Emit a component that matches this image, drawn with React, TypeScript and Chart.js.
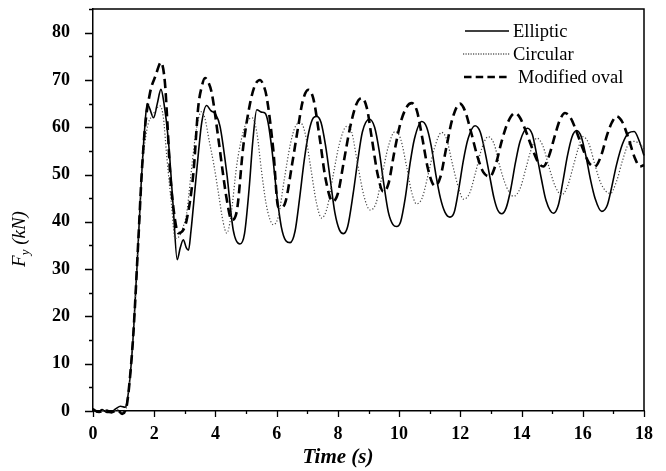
import React, { useEffect, useRef } from "react";
import { Chart, registerables } from "chart.js";

Chart.register(...registerables);

const SERIF = '"Liberation Serif", "Times New Roman", serif';

// Elliptic (solid)
const ellipticT = [0, 0.15, 0.3, 0.45, 0.6, 0.75, 0.9, 1.05, 1.1, 1.2, 1.32, 1.48, 1.59, 1.68, 1.77, 1.85, 1.98, 2.1, 2.22, 2.32, 2.46, 2.62, 2.75, 2.85, 2.95, 3.05, 3.12, 3.2, 3.33, 3.45, 3.55, 3.71, 3.85, 4.0, 4.15, 4.37, 4.58, 4.8, 4.95, 5.1, 5.22, 5.35, 5.5, 5.62, 5.72, 5.85, 6.0, 6.15, 6.3, 6.44, 6.6, 6.75, 6.9, 7.05, 7.2, 7.31, 7.45, 7.6, 7.75, 7.9, 8.05, 8.18, 8.32, 8.5, 8.65, 8.8, 9.03, 9.2, 9.35, 9.5, 9.65, 9.8, 9.92, 10.05, 10.2, 10.35, 10.5, 10.74, 10.9, 11.05, 11.2, 11.35, 11.5, 11.66, 11.8, 11.95, 12.1, 12.25, 12.48, 12.65, 12.8, 12.95, 13.1, 13.22, 13.35, 13.5, 13.65, 13.8, 13.95, 14.19, 14.35, 14.5, 14.65, 14.8, 15.04, 15.2, 15.35, 15.5, 15.65, 15.8, 15.95, 16.1, 16.25, 16.4, 16.62, 16.8, 16.95, 17.1, 17.3, 17.5, 17.68, 17.85, 18.0];
const ellipticF = [0.5, -0.2, 0.3, -0.3, -0.2, 0.5, 1.0, 0.8, 1.5, 6.5, 16.5, 36, 50, 59, 65, 64, 62, 65, 68, 65, 57.4, 43.2, 32, 34.5, 36.2, 34.5, 34, 38, 46.8, 55, 60.9, 64.6, 63.5, 62.8, 60.2, 50.3, 38.3, 35.3, 37.5, 47, 57, 63.7, 63.2, 63, 61, 55, 46, 39, 36, 35.6, 38, 45, 53, 59, 62, 62.3, 61, 56, 49, 42, 38.3, 37.5, 39, 46, 53, 59, 61.7, 60, 55, 48, 42, 39.4, 39, 40, 45, 52, 57.5, 61.2, 60, 56, 50, 45, 42, 41, 42, 47, 53, 57.5, 60.3, 59, 55, 50, 45, 42.5, 41.7, 43, 47, 52.5, 57, 59.8, 58.5, 54, 49, 44.5, 41.8, 43.5, 48.5, 54, 58, 59.3, 58, 54, 49, 45, 42.2, 43.5, 47.5, 52, 56.5, 58.8, 59.1, 57, 54];

// Circular (dotted)
const circularT = [0, 0.2, 0.4, 0.6, 0.8, 0.95, 1.05, 1.1, 1.2, 1.32, 1.48, 1.59, 1.7, 1.81, 1.95, 2.08, 2.19, 2.3, 2.41, 2.57, 2.68, 2.8, 2.92, 3.06, 3.2, 3.33, 3.45, 3.55, 3.65, 3.8, 3.95, 4.1, 4.25, 4.37, 4.5, 4.69, 4.85, 5.0, 5.2, 5.35, 5.5, 5.65, 5.78, 5.89, 6.05, 6.25, 6.45, 6.6, 6.76, 6.92, 7.1, 7.3, 7.47, 7.65, 7.85, 8.05, 8.29, 8.45, 8.65, 8.85, 9.05, 9.25, 9.45, 9.65, 9.87, 10.05, 10.25, 10.4, 10.57, 10.75, 10.95, 11.15, 11.39, 11.55, 11.75, 11.95, 12.1, 12.3, 12.5, 12.7, 12.91, 13.1, 13.3, 13.5, 13.73, 13.95, 14.15, 14.3, 14.5, 14.7, 14.9, 15.1, 15.31, 15.5, 15.7, 15.85, 16.0, 16.2, 16.4, 16.6, 16.9, 17.1, 17.3, 17.5, 17.7, 17.85, 18.0];
const circularF = [0, -0.3, 0.2, -0.2, 0.3, -0.5, 0.3, 1, 6.5, 16.5, 36, 50, 57, 60.9, 62.5, 64, 64.5, 62, 53.8, 43.2, 36.5, 36.8, 38.5, 41.8, 50, 57.4, 62, 63.3, 62, 57, 52, 46, 40, 37.6, 41, 51.7, 57.5, 60.8, 62, 59, 51, 44, 40.5, 39.4, 41, 49, 56.5, 60, 61, 59, 52, 44, 40.8, 43, 50, 56.5, 60.2, 59, 52, 45.5, 42.5, 44, 50, 56, 59.1, 57.5, 51.5, 46.5, 43.8, 45, 50, 55.5, 58.9, 57.5, 52, 47, 44.8, 46, 50.5, 55.5, 58, 56.5, 51.5, 47.5, 45.4, 47, 51.5, 55, 57.7, 56, 51.5, 47.5, 45.7, 47.5, 52, 55.5, 58, 56.5, 52, 48, 46, 48.5, 53, 56.5, 57, 56.5, 55.5];

// Modified oval (dashed)
const ovalT = [0, 0.2, 0.4, 0.6, 0.8, 0.95, 1.05, 1.1, 1.2, 1.32, 1.48, 1.59, 1.7, 1.86, 2.05, 2.22, 2.35, 2.43, 2.52, 2.68, 2.79, 2.92, 3.06, 3.28, 3.44, 3.55, 3.66, 3.77, 3.88, 4.1, 4.25, 4.37, 4.53, 4.69, 4.91, 5.13, 5.3, 5.46, 5.56, 5.67, 5.89, 6.05, 6.16, 6.3, 6.5, 6.7, 6.85, 7.03, 7.2, 7.4, 7.6, 7.83, 8.0, 8.2, 8.4, 8.6, 8.78, 8.95, 9.1, 9.3, 9.48, 9.65, 9.85, 10.05, 10.25, 10.41, 10.58, 10.75, 10.95, 11.17, 11.35, 11.55, 11.75, 11.99, 12.15, 12.35, 12.55, 12.75, 12.97, 13.15, 13.35, 13.55, 13.79, 13.95, 14.15, 14.35, 14.55, 14.71, 14.9, 15.1, 15.25, 15.42, 15.6, 15.8, 16.0, 16.2, 16.4, 16.6, 16.8, 16.95, 17.1, 17.3, 17.5, 17.7, 17.87, 18.0];
const ovalF = [0.3, -0.2, 0.2, -0.3, 0.2, -0.6, 0, 1, 6.5, 16.5, 36, 50, 60, 67.2, 71, 73.7, 69.4, 61, 50.3, 40.4, 37.6, 38, 40.4, 50.3, 64.4, 68.5, 70.4, 69.5, 67.2, 57.4, 50, 44.7, 40.4, 42, 56, 65, 69, 70, 69, 66.5, 55.2, 43.2, 43, 44.5, 52, 60, 65.5, 67.9, 66, 58, 49, 44.3, 46, 53, 60, 64.8, 66.2, 64, 58, 50, 46.4, 48, 55, 61, 64.3, 65.1, 63.5, 58, 51, 47.6, 49.5, 56, 62, 65, 63.5, 59, 54, 50.5, 49.6, 52, 57, 61, 63, 62, 59, 55.5, 52.5, 51.7, 54, 58.5, 61.5, 63, 62, 59, 55.5, 52.5, 51.7, 54, 58.5, 61, 62.3, 61, 57.5, 53.5, 51.7, 52];

const seriesNames = ["Elliptic", "Circular", "Modified oval"];
const xTitle = "Time (s)";
const yTitleMain = "F";
const yTitleSub = "y";
const yTitleRest = " (kN)";

const toPoints = (t: number[], f: number[]) => t.map((x, i) => ({ x, y: f[i] }));

const framePlugin = {
  id: "frameAndText",
  afterDraw(chart: any) {
    const { ctx, chartArea } = chart;
    const { left, right, top, bottom } = chartArea;
    const xs = chart.scales.x;
    const ys = chart.scales.y;
    ctx.save();
    ctx.strokeStyle = "#000";
    ctx.lineWidth = 1.5;
    ctx.beginPath();
    ctx.moveTo(left, top);
    ctx.lineTo(right, top);
    ctx.lineTo(right, bottom);
    ctx.stroke();
    ctx.lineWidth = 1.3;
    ctx.beginPath();
    for (let v = 0; v <= 85; v += 5) {
      const py = Math.round(ys.getPixelForValue(v)) + 0.5;
      const len = v % 10 === 0 ? 8 : 4;
      ctx.moveTo(left - len, py);
      ctx.lineTo(left, py);
    }
    for (let v = 0; v <= 18; v += 1) {
      const px = Math.round(xs.getPixelForValue(v)) + 0.5;
      const len = v % 2 === 0 ? 6 : 3;
      ctx.moveTo(px, bottom);
      ctx.lineTo(px, bottom + len);
    }
    ctx.stroke();

    // legend
    const items = [
      { y: 31, dash: [] as number[], w: 1.7, color: "#000", x0: 465, x1: 509, tx: 513, base: 37 },
      { y: 54, dash: [1.2, 1.3], w: 1.2, color: "#111", x0: 463, x1: 510, tx: 513, base: 59.5 },
      { y: 77, dash: [7.5, 4.2], w: 2.5, color: "#000", x0: 464, x1: 507, tx: 518, base: 82.5 },
    ];
    ctx.font = `18.5px ${SERIF}`;
    ctx.fillStyle = "#000";
    ctx.textAlign = "left";
    ctx.textBaseline = "alphabetic";
    items.forEach((it, i) => {
      ctx.save();
      ctx.setLineDash(it.dash);
      ctx.lineWidth = it.w;
      ctx.strokeStyle = it.color;
      ctx.beginPath();
      ctx.moveTo(it.x0, it.y);
      ctx.lineTo(it.x1, it.y);
      ctx.stroke();
      ctx.restore();
      ctx.fillText(seriesNames[i], it.tx, it.base);
    });

    ctx.font = `italic bold 21px ${SERIF}`;
    ctx.textAlign = "center";
    ctx.fillText(xTitle, 338, 463);

    ctx.save();
    ctx.translate(25, 239);
    ctx.rotate(-Math.PI / 2);
    const mainFont = `italic 19px ${SERIF}`;
    const subFont = `italic 13px ${SERIF}`;
    ctx.font = mainFont;
    const wF = ctx.measureText(yTitleMain).width;
    const wRest = ctx.measureText(yTitleRest).width;
    ctx.font = subFont;
    const wSub = ctx.measureText(yTitleSub).width;
    const total = wF + wSub + wRest;
    let cx = -total / 2;
    ctx.textAlign = "left";
    ctx.font = mainFont;
    ctx.fillText(yTitleMain, cx, 0);
    cx += wF;
    ctx.font = subFont;
    ctx.fillText(yTitleSub, cx, 4);
    cx += wSub;
    ctx.font = mainFont;
    ctx.fillText(yTitleRest, cx, 0);
    ctx.restore();

    ctx.restore();
  },
};

export default function App() {
  const canvasRef = useRef<HTMLCanvasElement | null>(null);

  useEffect(() => {
    if (!canvasRef.current) return;
    const chart = new Chart(canvasRef.current, {
      type: "line",
      data: {
        datasets: [
          {
            label: seriesNames[2],
            data: toPoints(ovalT, ovalF),
            borderColor: "#000",
            borderWidth: 2.6,
            borderDash: [9, 5],
            pointRadius: 0,
            cubicInterpolationMode: "monotone",
            clip: false,
          },
          {
            label: seriesNames[1],
            data: toPoints(circularT, circularF),
            borderColor: "#444",
            borderWidth: 1.2,
            borderDash: [1.2, 2],
            pointRadius: 0,
            cubicInterpolationMode: "monotone",
            clip: false,
          },
          {
            label: seriesNames[0],
            data: toPoints(ellipticT, ellipticF),
            borderColor: "#000",
            borderWidth: 1.6,
            pointRadius: 0,
            cubicInterpolationMode: "monotone",
            clip: false,
          },
        ],
      } as any,
      options: {
        animation: false,
        responsive: true,
        maintainAspectRatio: false,
        layout: { padding: { left: 0, right: 22, top: 9, bottom: 0 } },
        plugins: { legend: { display: false }, tooltip: { enabled: false } },
        scales: {
          x: {
            type: "linear",
            min: 0,
            max: 18,
            afterFit: (s: any) => {
              s.height = 60;
              s.paddingLeft = 0;
              s.paddingRight = 0;
            },
            border: { display: true, color: "#000", width: 1.5 },
            grid: { display: true, drawOnChartArea: false, drawTicks: true, tickLength: 6, tickColor: "rgba(0,0,0,0)" },
            ticks: {
              stepSize: 1,
              autoSkip: false,
              maxRotation: 0,
              padding: 7,
              color: "#000",
              font: { family: SERIF, size: 18, weight: "bold" },
              callback: (v: any) => (Number(v) % 2 === 0 ? String(v) : ""),
            },
          },
          y: {
            type: "linear",
            min: 0,
            max: 85,
            afterFit: (s: any) => {
              s.width = 93;
              s.paddingTop = 0;
              s.paddingBottom = 0;
            },
            border: { display: true, color: "#000", width: 1.5 },
            grid: { display: true, drawOnChartArea: false, drawTicks: true, tickLength: 8, tickColor: "rgba(0,0,0,0)" },
            ticks: {
              stepSize: 5,
              autoSkip: false,
              padding: 15,
              color: "#000",
              font: { family: SERIF, size: 18, weight: "bold" },
              callback: (v: any) => (Number(v) % 10 === 0 ? String(v) : ""),
            },
          },
        },
      } as any,
      plugins: [framePlugin],
    });
    return () => chart.destroy();
  }, []);

  return (
    <div style={{ position: "fixed", left: 0, top: 0, width: 666, height: 471, background: "#fff" }}>
      <canvas ref={canvasRef} />
    </div>
  );
}
